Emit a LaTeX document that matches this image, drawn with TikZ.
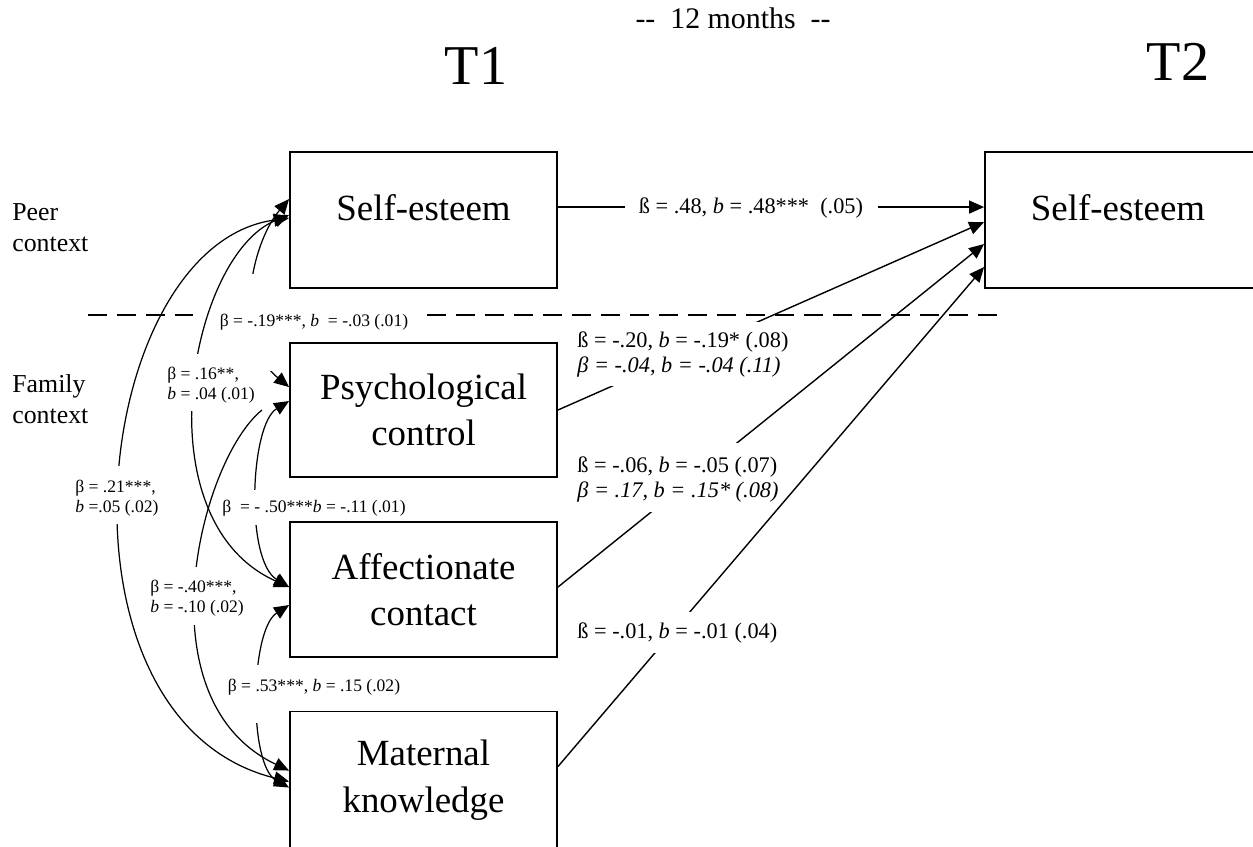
\documentclass[tikz,border=0pt]{standalone}
\usepackage{fontspec}
\setmainfont{Liberation Serif}
\usetikzlibrary{arrows.meta,calc}
\pgfdeclarelayer{background}
\pgfsetlayers{background,main}
\begin{document}
\begin{tikzpicture}[x=0.02cm,y=-0.02cm,
  box/.style={draw,line width=1.1pt,minimum width=5.34cm,inner sep=0pt,align=center,
    font=\fontsize{21}{26.5}\selectfont},
  onebox/.style={box,text height=14pt,text depth=14pt},
  tip/.style={-{Triangle[length=8.5pt,width=7.4pt]}},
  dbl/.style={{Triangle[length=8.5pt,width=7.4pt]}-{Triangle[length=8.5pt,width=7.4pt]}},
  arc/.style={line width=0.7pt},
  path/.style={line width=0.8pt},
  mask/.style={fill=white},
  sepline/.style={line width=1.1pt,dash pattern=on 10.8pt off 5.7pt},
  llab/.style={inner sep=0pt,align=left,font=\fontsize{10}{11.5}\selectfont},
  rlab/.style={inner sep=0pt,align=left,font=\fontsize{12.7}{14.2}\selectfont},
  side/.style={inner sep=0pt,align=left,anchor=west,font=\fontsize{14.7}{17.6}\selectfont},
  title/.style={inner sep=0pt,font=\fontsize{32}{36}\selectfont}]
\useasboundingbox (0,0) rectangle (1253,846);

% titles
\node[title] (t1) at (476,66) {T1};
\node[title] (t2) at (1178,62) {T2};
\node[inner sep=0pt,font=\fontsize{17}{20}\selectfont] (months) at (733,18) {-{}-\ \ 12 months\ \ -{}-};
\node[side] (peer) at (12,228) {Peer\\context};
\node[side] (family) at (12,399) {Family\\context};

% boxes
\node[onebox,minimum height=2.72cm] (se1) at (423.5,220) {Self-esteem};
\node[box,minimum height=2.68cm] (pc) at (423.5,410) {Psychological\\control};
\node[box,minimum height=2.70cm] (ac) at (423.5,589.5) {Affectionate\\contact};
\node[box,minimum height=2.74cm] (mk) at (423.5,780) {Maternal\\knowledge};
\node[onebox,minimum height=2.72cm,minimum width=5.46cm] (se2) at (1121.5,220) {\hspace*{-4pt}Self-esteem};

\coordinate (dfree) at (262,410);

\begin{pgfonlayer}{background}
% separator
\draw[sepline] (88,315) -- (193,315);
\draw[sepline] (427,315) -- (1005,315);
% paths to T2
\draw[path,tip] ($(se1.north east)+(0,56)$) -- ($(se2.north west)+(0,56)$);
\fill[mask] (625,198) rectangle (878,220);
\draw[path,tip] (pc.east) -- ($(se2.north west)+(0,71)$);
\fill[mask] (575,322) rectangle (792,386);
\draw[path,tip] ($(ac.north east)+(0,66)$) -- ($(se2.north west)+(0,93)$);
\fill[mask] (575,443) rectangle (776,512);
\draw[path,tip] ($(mk.north east)+(0,56)$) -- ($(se2.north west)+(0,116)$);
\fill[mask] (575,612) rectangle (780,653);
% correlations at T1
\draw[arc,dbl] ($(se1.north west)+(0,48)$) .. controls (250,245) and (232,340) .. ($(pc.north west)+(0,45)$);
\fill[mask] (220,274) rectangle (408,371);
\draw[arc,dbl] ($(pc.north west)+(0,59)$) .. controls (250,425) and (245,560) .. ($(ac.north west)+(0,66)$);
\fill[mask] (222,490) rectangle (407,525);
\draw[arc,dbl] ($(ac.north west)+(0,84)$) .. controls (250,630) and (248,765) .. ($(mk.north west)+(0,77)$);
\fill[mask] (226,665) rectangle (402,723);
\draw[arc,tip] (dfree) .. controls (200,460) and (140,700) .. ($(mk.north west)+(0,60)$);
\fill[mask] (148,567) rectangle (245,625);
\draw[arc,dbl] ($(se1.north west)+(0,67)$) .. controls (90,245) and (40,720) .. ($(mk.north west)+(0,71)$);
\fill[mask] (73,466) rectangle (161,524);
\draw[arc,dbl] ($(se1.north west)+(0,64)$) .. controls (190,255) and (140,520) .. ($(ac.north west)+(0,66)$);
\fill[mask] (166,354) rectangle (259,411);
\end{pgfonlayer}

% labels
\node[rlab] (r1) at (751,208) {ß = .48, \textit{b} = .48***\ \ (.05)};
\node[rlab,anchor=west] (r2) at (577,354.5) {ß = -.20, \textit{b} = -.19* (.08)\\\textit{β = -.04, b = -.04 (.11)}};
\node[rlab,anchor=west] (r3) at (577,479.5) {ß = -.06, \textit{b} = -.05 (.07)\\\textit{β = .17, b = .15* (.08)}};
\node[rlab,anchor=west] (r4) at (577,633) {ß = -.01, \textit{b} = -.01 (.04)};

\node[llab] (la) at (314,322) {β = -.19***, \textit{b}\ \ = -.03 (.01)};
\node[llab,anchor=west] (lb) at (167,385) {β = .16**,\\\textit{b}\ = .04 (.01)};
\node[llab,anchor=west] (lc) at (75,498) {β = .21***,\\\textit{b}\ =.05 (.02)};
\node[llab,anchor=west] (ld) at (150,598) {β = -.40***,\\\textit{b}\ = -.10 (.02)};
\node[llab] (le) at (314,508) {β\ \ = - .50***\textit{b} = -.11 (.01)};
\node[llab] (lf) at (314,687) {β = .53***, \textit{b} = .15 (.02)};
\end{tikzpicture}
\end{document}
